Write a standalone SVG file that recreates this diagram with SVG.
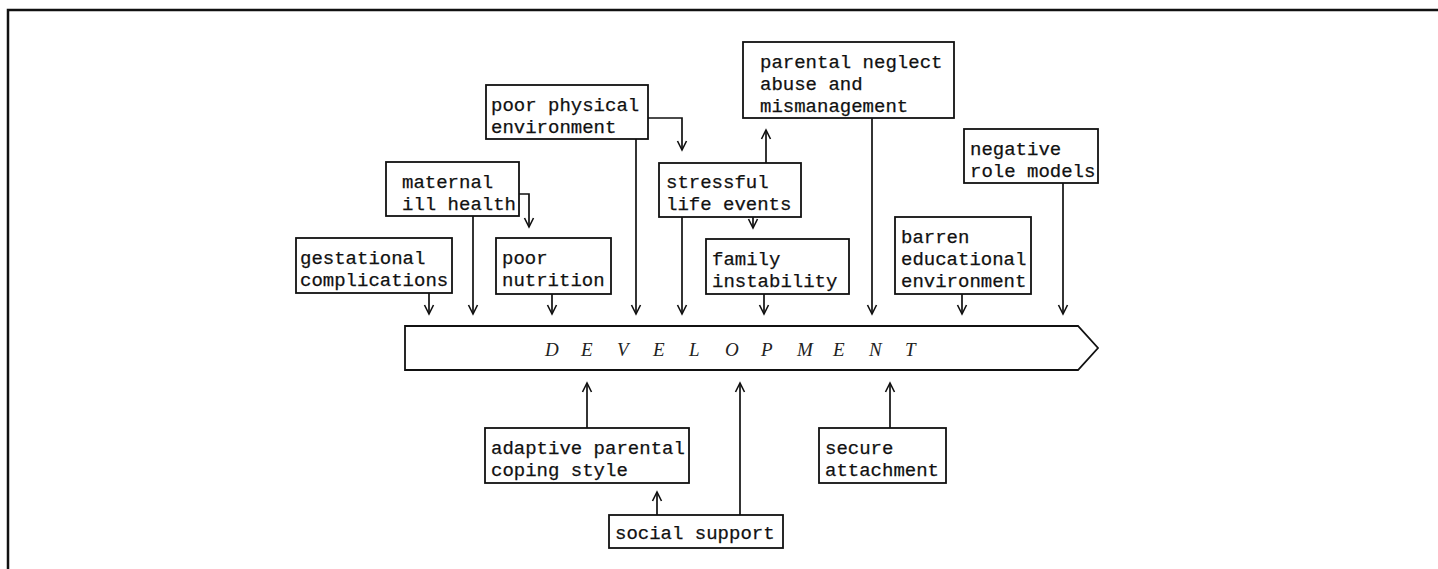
<svg xmlns="http://www.w3.org/2000/svg" width="1438" height="569" viewBox="0 0 1438 569">
  <style>
    .box rect { fill: #fff; stroke: #111; stroke-width: 1.8; }
    .box text { font-family: "Liberation Mono", "DejaVu Sans Mono", monospace; font-size: 19px; fill: #111; stroke: #111; stroke-width: 0.25; }
    .wire { fill: none; stroke: #111; stroke-width: 1.7; }
    .frame { fill: none; stroke: #111; stroke-width: 2.5; }
    .dev { fill: #fff; stroke: #111; stroke-width: 1.8; }
    .devlabel { font-family: "Liberation Serif", "DejaVu Serif", serif; font-style: italic; font-size: 19px; fill: #222; }
  </style>
  <defs>
    <marker id="head" viewBox="-10 -6 12 12" refX="0" refY="0" markerWidth="12" markerHeight="12" markerUnits="userSpaceOnUse" orient="auto">
      <path d="M-9,-4.5 L0,0 L-9,4.5" fill="none" stroke="#111" stroke-width="1.6"/>
    </marker>
  </defs>

  <rect width="1438" height="569" fill="#fff"/>
  <!-- page frame: top and left rules -->
  <path class="frame" d="M8,569 L8,10 L1438,10"/>

  <!-- central development band -->
  <g id="development">
    <polygon class="dev" points="405,326 1078,326 1098,348 1078,370 405,370"/>
    <text class="devlabel" y="356" x="545 563 581 599 617 635 653 671 689 707 725 743 761 779 797 815 833 851 869 887 905">D E V E L O P M E N T</text>
  </g>

  <!-- connectors -->
  <g id="connectors">
    <!-- influences from above -->
    <path class="wire" d="M429,293 L429,314" marker-end="url(#head)"/>
    <path class="wire" d="M473,216 L473,314" marker-end="url(#head)"/>
    <path class="wire" d="M552,294 L552,314" marker-end="url(#head)"/>
    <path class="wire" d="M636,139 L636,314" marker-end="url(#head)"/>
    <path class="wire" d="M682,217 L682,314" marker-end="url(#head)"/>
    <path class="wire" d="M764,294 L764,314" marker-end="url(#head)"/>
    <path class="wire" d="M872,118 L872,314" marker-end="url(#head)"/>
    <path class="wire" d="M962,294 L962,314" marker-end="url(#head)"/>
    <path class="wire" d="M1063,183 L1063,314" marker-end="url(#head)"/>
    <!-- links between risk factors -->
    <path class="wire" d="M519,194 L529,194 L529,227" marker-end="url(#head)"/>
    <path class="wire" d="M648,118 L682,118 L682,150" marker-end="url(#head)"/>
    <path class="wire" d="M766,163 L766,130" marker-end="url(#head)"/>
    <path class="wire" d="M753,217 L753,228" marker-end="url(#head)"/>
    <!-- protective factors from below -->
    <path class="wire" d="M587,428 L587,383" marker-end="url(#head)"/>
    <path class="wire" d="M740,515 L740,383" marker-end="url(#head)"/>
    <path class="wire" d="M890,428 L890,383" marker-end="url(#head)"/>
    <path class="wire" d="M657,515 L657,492" marker-end="url(#head)"/>
  </g>

  <g id="parental-neglect" class="box">
    <rect x="743" y="42" width="211" height="76"/>
    <text x="760" y="68">parental neglect</text>
    <text x="760" y="90">abuse and</text>
    <text x="760" y="112">mismanagement</text>
  </g>
  <g id="poor-physical-environment" class="box">
    <rect x="486" y="85" width="162" height="54"/>
    <text x="491" y="111">poor physical</text>
    <text x="491" y="133">environment</text>
  </g>
  <g id="negative-role-models" class="box">
    <rect x="964" y="129" width="134" height="54"/>
    <text x="970" y="155">negative</text>
    <text x="970" y="177">role models</text>
  </g>
  <g id="maternal-ill-health" class="box">
    <rect x="386" y="162" width="133" height="54"/>
    <text x="402" y="188">maternal</text>
    <text x="402" y="210">ill health</text>
  </g>
  <g id="stressful-life-events" class="box">
    <rect x="659" y="163" width="142" height="54"/>
    <text x="666" y="188">stressful</text>
    <text x="666" y="210">life events</text>
  </g>
  <g id="gestational-complications" class="box">
    <rect x="296" y="238" width="156" height="55"/>
    <text x="300" y="264">gestational</text>
    <text x="300" y="286">complications</text>
  </g>
  <g id="poor-nutrition" class="box">
    <rect x="496" y="238" width="115" height="56"/>
    <text x="502" y="264">poor</text>
    <text x="502" y="286">nutrition</text>
  </g>
  <g id="family-instability" class="box">
    <rect x="706" y="239" width="143" height="55"/>
    <text x="712" y="265">family</text>
    <text x="712" y="287">instability</text>
  </g>
  <g id="barren-educational-environment" class="box">
    <rect x="895" y="217" width="136" height="77"/>
    <text x="901" y="243">barren</text>
    <text x="901" y="265">educational</text>
    <text x="901" y="287">environment</text>
  </g>

  <g id="adaptive-parental-coping-style" class="box">
    <rect x="485" y="428" width="204" height="55"/>
    <text x="491" y="454">adaptive parental</text>
    <text x="491" y="476">coping style</text>
  </g>
  <g id="secure-attachment" class="box">
    <rect x="819" y="428" width="127" height="55"/>
    <text x="825" y="454">secure</text>
    <text x="825" y="476">attachment</text>
  </g>
  <g id="social-support" class="box">
    <rect x="609" y="515" width="174" height="33"/>
    <text x="615" y="539">social support</text>
  </g>
</svg>
